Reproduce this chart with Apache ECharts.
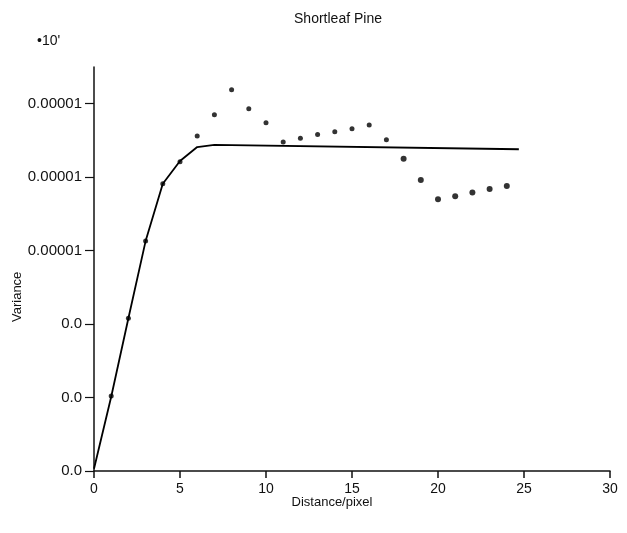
<!DOCTYPE html>
<html>
<head>
<meta charset="utf-8">
<script src="https://cdn.jsdelivr.net/npm/echarts@6/dist/echarts.min.js"></script>
<style>html,body{margin:0;padding:0;background:#fff}#c{width:627px;height:533px}</style>
</head>
<body>
<div id="c"></div>
<script>
// Data (variance in units of the y-axis tick steps)
var distances = [1,2,3,4,5,6,7,8,9,10,11,12,13,14,15,16,17,18,19,20,21,22,23,24];
var observedVariance = [1.02,2.08,3.13,3.91,4.21,4.56,4.85,5.19,4.93,4.74,4.48,4.53,4.58,4.62,4.66,4.71,4.51,4.25,3.96,3.70,3.74,3.79,3.84,3.88];
var modelDistances = [0,1,2,3,4,5,6,7,24.7];
var modelVariance = [0.03,1.01,2.08,3.13,3.91,4.22,4.41,4.44,4.38];
var yTickValues = [0,1,2,3,4,5];
var yTickLabels = ["0.0","0.0","0.0","0.00001","0.00001","0.00001"];

var font = '"Liberation Sans", Arial, sans-serif';
var chart = echarts.init(document.getElementById('c'), null, {renderer:'canvas'});
var obs = distances.map(function(d,i){return [d, observedVariance[i]];});
var model = modelDistances.map(function(d,i){return [d, modelVariance[i]];});

chart.setOption({
  animation:false,
  backgroundColor:'#fff',
  title:{text:'Shortleaf Pine', left:333, top:7, textAlign:'center',
    textStyle:{fontFamily:font, fontSize:14, fontWeight:'normal', color:'#111'}},
  grid:{left:94, right:17, top:67, bottom:62},
  xAxis:{type:'value', min:0, max:30, interval:5,
    axisLine:{show:true, lineStyle:{color:'#111', width:1.5}},
    axisTick:{show:true, length:7, lineStyle:{color:'#111', width:1.5}},
    axisLabel:{color:'#111', fontFamily:font, fontSize:14, margin:11},
    splitLine:{show:false}},
  yAxis:{type:'value', min:0, max:5.5,
    axisLine:{show:true, lineStyle:{color:'#111', width:1.5}},
    axisTick:{show:true, length:9, customValues:yTickValues, lineStyle:{color:'#111', width:1.2}},
    axisLabel:{color:'#111', fontFamily:font, fontSize:15, margin:12, customValues:yTickValues,
      formatter:function(v){var i=yTickValues.indexOf(v);return i>=0?yTickLabels[i]:'';}},
    splitLine:{show:false}},
  graphic:[
    {type:'text', left:37, top:34, style:{text:'•10\'', fill:'#111', font:'14px '+font}},
    {type:'text', x:11, y:322, rotation:Math.PI/2, style:{text:'Variance', fill:'#111', font:'13px '+font}},
    {type:'text', x:332, y:496, style:{text:'Distance/pixel', fill:'#111', font:'13px '+font, textAlign:'center'}}
  ],
  series:[
    {type:'line', data:model, symbol:'none', lineStyle:{color:'#000', width:1.8}, z:2},
    {type:'scatter', data:obs, symbol:'circle',
      symbolSize:function(v,p){return p.dataIndex>=17?6:5;},
      itemStyle:{color:'#000'}, z:3}
  ]
});
</script>
</body>
</html>
